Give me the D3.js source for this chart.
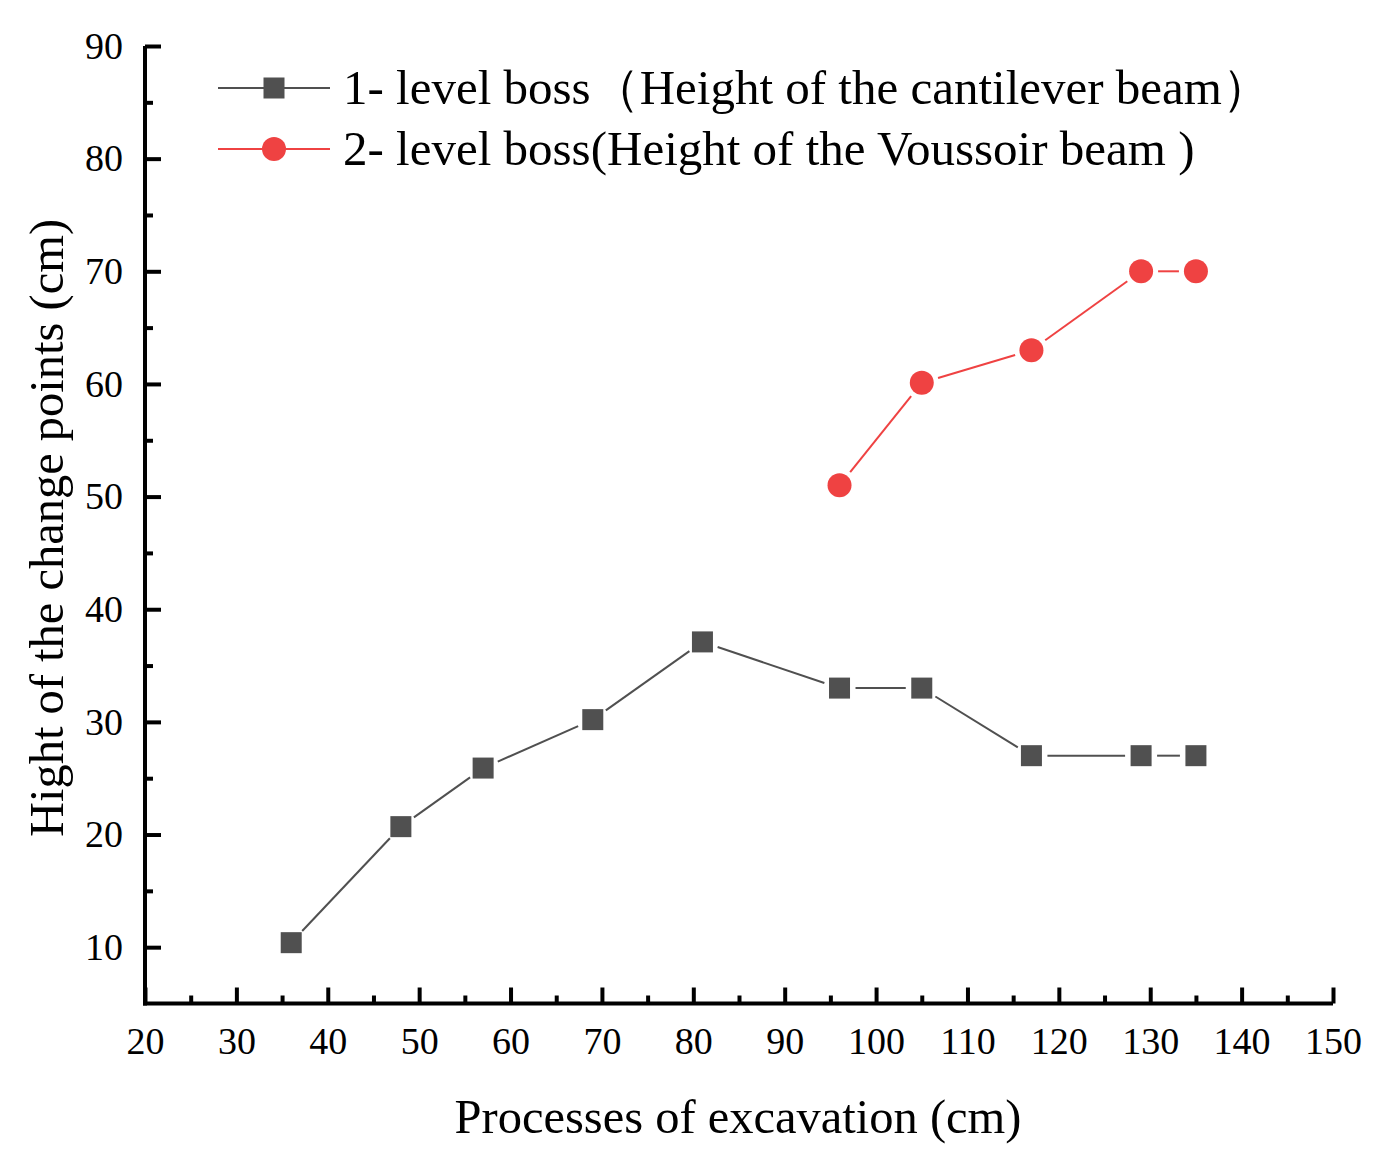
<!DOCTYPE html>
<html>
<head>
<meta charset="utf-8">
<script src="https://cdn.jsdelivr.net/npm/d3@7"></script>
<style>
  body { margin: 0; background: #fff; }
  text { font-family: "Liberation Serif", "Times New Roman", serif; fill: #000; }
</style>
</head>
<body>
<div id="chart"></div>
<script>
const width = 1375;
const height = 1150;

// data
const level1X = [36, 48, 57, 69, 81, 96, 105, 117, 129, 135];
const level1Y = [10.4, 20.7, 25.9, 30.2, 37.1, 33.0, 33.0, 27.0, 27.0, 27.0];
const level2X = [96, 105, 117, 129, 135];
const level2Y = [51.0, 60.1, 63.0, 70.0, 70.0];

const xTicks = [20, 30, 40, 50, 60, 70, 80, 90, 100, 110, 120, 130, 140, 150];
const yTicks = [10, 20, 30, 40, 50, 60, 70, 80, 90];
const xMinor = [25, 35, 45, 55, 65, 75, 85, 95, 105, 115, 125, 135, 145];
const yMinor = [15, 25, 35, 45, 55, 65, 75, 85];

const legendNames = [
  "1- level boss（Height of the cantilever beam）",
  "2- level boss(Height of the Voussoir beam )"
];
const xTitle = "Processes of excavation (cm)";
const yTitle = "Hight of the change points (cm)";

const grey = "#505050";
const red = "#ef4242";

const x = d3.scaleLinear().domain([20, 150]).range([145, 1333]);
const y = d3.scaleLinear().domain([5, 90]).range([1003.5, 46]);

const svg = d3.select("#chart")
  .append("svg")
  .attr("width", width)
  .attr("height", height);

// line segments with a gap around each marker
function drawSeries(xs, ys, color, gap) {
  const pts = xs.map((v, i) => [x(v), y(ys[i])]);
  const g = svg.append("g");
  for (let i = 0; i < pts.length - 1; i++) {
    const [x1, y1] = pts[i], [x2, y2] = pts[i + 1];
    const len = Math.hypot(x2 - x1, y2 - y1);
    const ux = (x2 - x1) / len, uy = (y2 - y1) / len;
    g.append("line")
      .attr("x1", x1 + ux * gap).attr("y1", y1 + uy * gap)
      .attr("x2", x2 - ux * gap).attr("y2", y2 - uy * gap)
      .attr("stroke", color)
      .attr("stroke-width", 2);
  }
  return { g, pts };
}

const s1 = drawSeries(level1X, level1Y, grey, 16);
s1.g.selectAll("rect")
  .data(s1.pts)
  .enter()
  .append("rect")
  .attr("x", d => d[0] - 10.5)
  .attr("y", d => d[1] - 10.5)
  .attr("width", 21)
  .attr("height", 21)
  .attr("fill", grey);

const s2 = drawSeries(level2X, level2Y, red, 17);
s2.g.selectAll("circle")
  .data(s2.pts)
  .enter()
  .append("circle")
  .attr("cx", d => d[0])
  .attr("cy", d => d[1])
  .attr("r", 12)
  .attr("fill", red);

// axes
const xAxis = svg.append("g")
  .attr("transform", `translate(0,${y(5)})`)
  .call(d3.axisBottom(x).tickValues(xTicks).tickSize(-16).tickPadding(24).tickFormat(d3.format("d")));
xAxis.append("g")
  .attr("class", "minor")
  .call(d3.axisBottom(x).tickValues(xMinor).tickSize(-8).tickFormat(""));

const yAxis = svg.append("g")
  .attr("transform", `translate(${x(20)},0)`)
  .call(d3.axisLeft(y).tickValues(yTicks).tickSize(-16).tickPadding(22).tickFormat(d3.format("d")));
yAxis.append("g")
  .attr("class", "minor")
  .call(d3.axisLeft(y).tickValues(yMinor).tickSize(-8).tickFormat(""));

svg.selectAll(".minor .domain").remove();
svg.selectAll(".domain").attr("stroke", "#000").attr("stroke-width", 4);
xAxis.select(".domain").attr("d", `M${x(20) - 2},0H${x(150)}`);
yAxis.select(".domain").attr("d", `M0,${y(5) + 2}V${y(90)}`);
svg.selectAll(".tick line").attr("stroke", "#000").attr("stroke-width", 4);
svg.selectAll(".tick text")
  .style("font-family", "'Liberation Serif', serif")
  .style("font-size", "38px")
  .attr("fill", "#000");

// axis titles
svg.append("text")
  .attr("x", 738)
  .attr("y", 1133)
  .attr("text-anchor", "middle")
  .style("font-size", "48.5px")
  .text(xTitle);

svg.append("text")
  .attr("transform", `translate(63,528) rotate(-90)`)
  .attr("text-anchor", "middle")
  .style("font-size", "48.5px")
  .text(yTitle);

// legend
const legend = svg.append("g");
const legendY = [88, 149];
[grey, red].forEach((c, i) => {
  const row = legend.append("g").attr("transform", `translate(0,${legendY[i]})`);
  row.append("line").attr("x1", 218).attr("x2", 330).attr("y1", 0).attr("y2", 0)
    .attr("stroke", c).attr("stroke-width", 2);
  if (i === 0) {
    row.append("rect").attr("x", 274 - 10.5).attr("y", -10.5).attr("width", 21).attr("height", 21).attr("fill", c);
  } else {
    row.append("circle").attr("cx", 274).attr("cy", 0).attr("r", 12).attr("fill", c);
  }
  row.append("text")
    .attr("x", 343)
    .attr("y", 16)
    .style("font-size", "49px")
    .text(legendNames[i]);
});
</script>
</body>
</html>
